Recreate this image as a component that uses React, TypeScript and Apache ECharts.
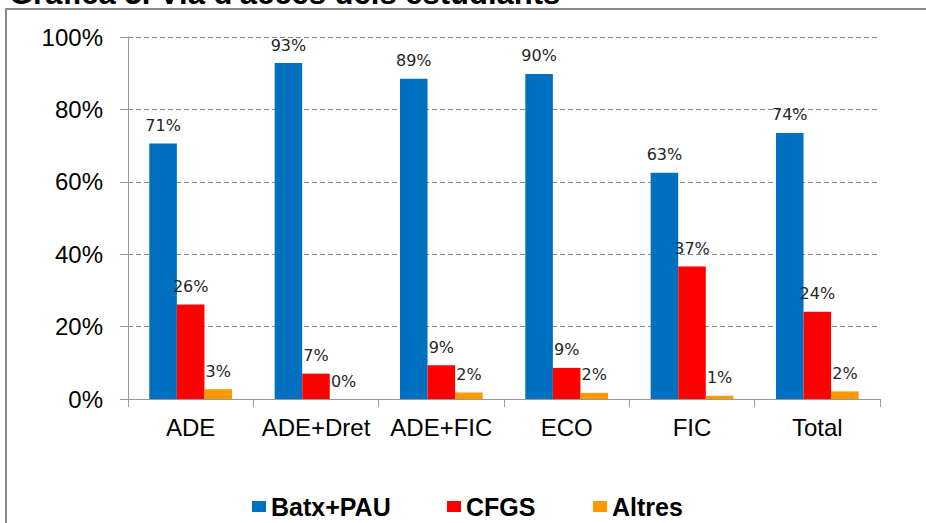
import React, { useEffect, useRef } from "react";
import * as echarts from "echarts";

const titleText = "Gràfica 3. Via d'accés dels estudiants";
const categories = ["ADE", "ADE+Dret", "ADE+FIC", "ECO", "FIC", "Total"];
const seriesNames = ["Batx+PAU", "CFGS", "Altres"];
const batxPau = [70.6, 92.8, 88.5, 89.8, 62.5, 73.5];
const cfgs = [26.1, 7.0, 9.3, 8.6, 36.6, 24.1];
const altres = [2.7, 0, 1.8, 1.7, 0.9, 2.1];
const yTicks = { min: 0, max: 100, interval: 20 };
const colors = ["#0070C0", "#FF0000", "#FF9900"];
const legendLefts = [247, 442, 588];

export default function App() {
  const ref = useRef<HTMLDivElement>(null);
  useEffect(() => {
    if (!ref.current) return;
    const chart = echarts.init(ref.current, null, { renderer: "svg" });
    const values = [batxPau, cfgs, altres];
    const option: any = {
      animation: false,
      backgroundColor: "#ffffff",
      graphic: [
        {
          type: "rect",
          shape: { x: 6, y: 9, width: 1000, height: 700 },
          style: { fill: "none", stroke: "#8c8c8c", lineWidth: 2 },
          silent: true,
        },
        {
          type: "text",
          x: 9,
          y: -7,
          style: {
            text: titleText,
            fill: "#000000",
            font: "bold 31px 'Liberation Sans', Arial, sans-serif",
            verticalAlign: "middle",
            align: "left",
          },
          silent: true,
        },
      ],
      grid: { left: 128, right: 46, top: 37, bottom: 124, containLabel: false },
      legend: seriesNames.map((n, i) => ({
        data: [n],
        left: legendLefts[i],
        top: 489,
        icon: "rect",
        itemWidth: 14,
        itemHeight: 11,
        selectedMode: false,
        textStyle: {
          fontFamily: "'Liberation Sans', Arial, sans-serif",
          fontWeight: "bold",
          fontSize: 25,
          color: "#000000",
        },
      })),
      xAxis: {
        type: "category",
        data: categories,
        axisLine: { lineStyle: { color: "#999999", width: 1 } },
        axisTick: { show: true, length: 8, lineStyle: { color: "#999999" } },
        axisLabel: {
          interval: 0,
          margin: 16,
          color: "#000000",
          fontFamily: "'Liberation Sans', Arial, sans-serif",
          fontSize: 24,
        },
      },
      yAxis: {
        type: "value",
        min: yTicks.min,
        max: yTicks.max,
        interval: yTicks.interval,
        axisLine: { show: true, lineStyle: { color: "#999999", width: 1 } },
        axisTick: { show: true, length: 8, lineStyle: { color: "#999999" } },
        axisLabel: {
          formatter: "{value}%",
          margin: 25,
          color: "#000000",
          fontFamily: "'Liberation Sans', Arial, sans-serif",
          fontSize: 24,
        },
        splitLine: {
          show: true,
          lineStyle: { color: "#888888", type: [5, 3], width: 1 },
        },
      },
      series: seriesNames.map((n, i) => ({
        name: n,
        type: "bar",
        data: values[i],
        barGap: "0%",
        barCategoryGap: "34%",
        itemStyle: { color: colors[i] },
        label: {
          show: true,
          position: "top",
          distance: 10,
          formatter: (p: any) => Math.round(p.value) + "%",
          color: "#262626",
          fontFamily: "'DejaVu Sans', sans-serif",
          fontSize: 16,
        },
      })),
    };
    chart.setOption(option);
    return () => chart.dispose();
  }, []);
  return (
    <div
      ref={ref}
      style={{ position: "fixed", left: 0, top: 0, width: 926, height: 523, background: "#fff" }}
    />
  );
}
